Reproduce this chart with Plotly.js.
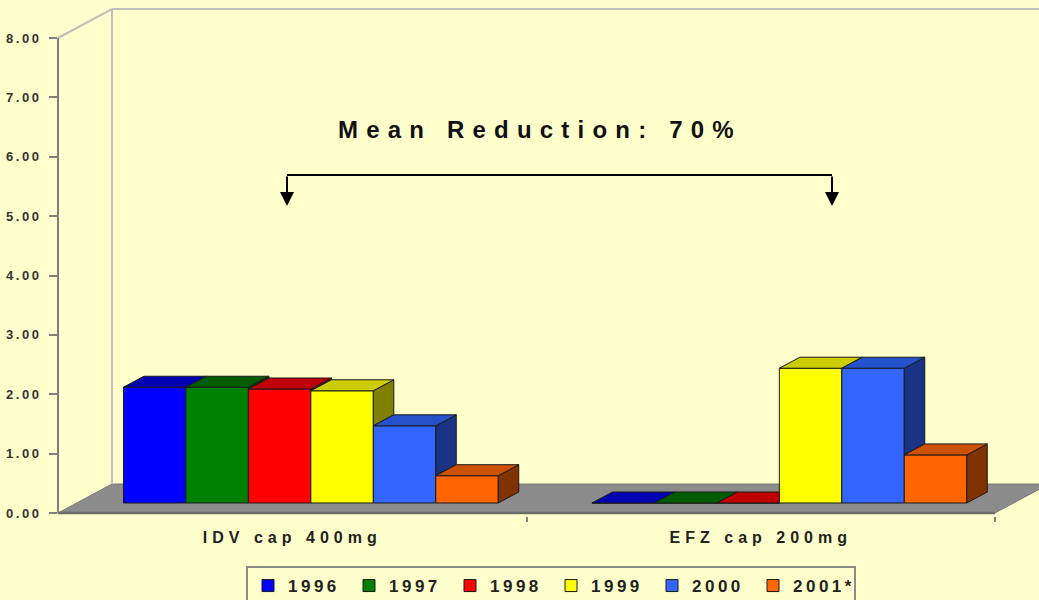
<!DOCTYPE html>
<html><head><meta charset="utf-8">
<script src="https://cdn.plot.ly/plotly-3.0.1.min.js"></script>
<style>
html,body{margin:0;padding:0;background:#FFFFCC;}
#chart{width:1039px;height:600px;}
.ytick text{letter-spacing:2.5px;}
.xtick text{letter-spacing:5px;}
.legendtext{letter-spacing:3.5px;}
.annotation-text{letter-spacing:8.2px;}
</style></head><body><div id="chart"></div>
<script>
// ---- data ----
const categories = ['IDV cap 400mg', 'EFZ cap 200mg'];
const years = ['1996', '1997', '1998', '1999', '2000', '2001*'];
const s1996 = [1.95, 0.00];
const s1997 = [1.95, 0.00];
const s1998 = [1.92, 0.00];
const s1999 = [1.89, 2.27];
const s2000 = [1.30, 2.27];
const s2001 = [0.46, 0.81];
const yTicks = [0, 1, 2, 3, 4, 5, 6, 7, 8];
const titleText = 'Mean Reduction: 70%';

// ---- styles ----
const frontColors = ['#0000FF', '#008000', '#FF0000', '#FFFF00', '#3366FF', '#FF6600'];
const topColors   = ['#0000B0', '#005C00', '#C00000', '#CCCC00', '#2452CC', '#CC5200'];
const sideColors  = ['#000080', '#004000', '#800000', '#808000', '#1A3385', '#803300'];
const FONT = 'Liberation Sans, Arial, sans-serif';

// ---- geometry (pixel scale of the axes) ----
const PLOT_L = 58, PLOT_W = 1039 - 58;
const AX_ZERO = 513, PLOT_T = 5, PLOT_B = 516;
const PX = 468.5, PY = 59.375;          // px per unit
const X0 = -0.5, X1 = 1.5;
const DX = 54 / PX, DY = 29 / PY;       // floor depth
const SX = 18.6 / PX, SY = 10 / PY;     // bar front plane offset
const BX = 20.5 / PX, BY = 11 / PY;     // bar depth
const GROUP = 0.8;
const series = [s1996, s1997, s1998, s1999, s2000, s2001];
const W = GROUP / series.length;
const Xp = p => X0 + (p - PLOT_L) / PX;
const Yp = p => (AX_ZERO - p) / PY;

const traces = [];
series.forEach((vals, j) => {
  traces.push({
    type: 'bar', name: years[j],
    x: vals.map((v, i) => i - GROUP / 2 + (j + 0.5) * W + SX),
    y: vals, base: SY, width: W,
    marker: {color: frontColors[j], line: {color: '#1a1a1a', width: 1}},
    hoverinfo: 'skip'
  });
});
series.forEach((vals, j) => {
  const tX = [], tY = [], sX = [], sY = [];
  vals.forEach((v, i) => {
    const xl = i - GROUP / 2 + j * W + SX, xr = xl + W;
    const h = SY + v;
    const last = j === series.length - 1;
    const hNext = last ? h : SY + series[j + 1][i];
    if (hNext >= h + BY) {
      tX.push(xl, xr, xr, xl + BX, xl, null);
      tY.push(h, h, h + BY, h + BY, h, null);
    } else {
      const hn = Math.max(hNext, h);
      const xc = xr + BX * (hn - h) / BY;
      tX.push(xl, xr, xr, xc, xr + BX, xl + BX, xl, null);
      tY.push(h, h, hn, hn, h + BY, h + BY, h, null);
    }
    let sb = null;
    if (last) sb = SY; else if (hNext < h) sb = hNext;
    if (sb !== null) {
      sX.push(xr, xr, xr + BX, xr + BX, xr, null);
      sY.push(sb, h, h + BY, sb + BY, sb, null);
    }
  });
  traces.push({type: 'scatter', mode: 'lines', x: sX, y: sY, fill: 'toself',
    fillcolor: sideColors[j], line: {color: '#1a1a1a', width: 1}, showlegend: false, hoverinfo: 'skip'});
  traces.push({type: 'scatter', mode: 'lines', x: tX, y: tY, fill: 'toself',
    fillcolor: topColors[j], line: {color: '#1a1a1a', width: 1}, showlegend: false, hoverinfo: 'skip'});
});

const wall = {color: '#C0C0C0', width: 2};
const shapes = [
  {type: 'path', xref: 'x', yref: 'y', layer: 'below',
   path: `M${X0},0 L${X1},0 L${X1 + DX},${DY} L${X0 + DX},${DY} Z`,
   fillcolor: '#8C8C8C', line: {color: '#7a7a7a', width: 1}},
  {type: 'line', xref: 'x', yref: 'y', layer: 'below', x0: X0, x1: X1, y0: 0, y1: 0,
   line: {color: '#6a6a6a', width: 2.5}},
  {type: 'line', xref: 'x', yref: 'y', layer: 'below', x0: X0 + DX, x1: X0 + DX, y0: DY, y1: 8 + DY, line: wall},
  {type: 'line', xref: 'x', yref: 'y', layer: 'below', x0: X0, x1: X0 + DX, y0: 8, y1: 8 + DY, line: wall},
  {type: 'line', xref: 'x', yref: 'y', layer: 'below', x0: X0 + DX, x1: 2, y0: 8 + DY, y1: 8 + DY, line: wall},
  {type: 'line', xref: 'paper', yref: 'y', x0: 0, x1: 0, y0: 0, y1: 8, line: {color: '#808080', width: 2}},
  {type: 'line', xref: 'x', yref: 'y', x0: Xp(287), x1: Xp(832), y0: Yp(175), y1: Yp(175), line: {color: '#000', width: 2}}
];

const annotations = [
  {xref: 'x', yref: 'y', x: Xp(540), y: Yp(129), text: titleText, showarrow: false,
   font: {family: FONT, size: 24, weight: 'bold', color: '#111'}},
  {xref: 'x', yref: 'y', x: Xp(287), y: Yp(206), ax: 0, ay: -31, text: '', showarrow: true,
   arrowhead: 2, arrowsize: 1.4, arrowwidth: 2, arrowcolor: '#000', standoff: 0},
  {xref: 'x', yref: 'y', x: Xp(832), y: Yp(206), ax: 0, ay: -31, text: '', showarrow: true,
   arrowhead: 2, arrowsize: 1.4, arrowwidth: 2, arrowcolor: '#000', standoff: 0}
];

const layout = {
  width: 1039, height: 600, autosize: false,
  margin: {l: PLOT_L, r: 0, t: PLOT_T, b: 600 - PLOT_B, autoexpand: false},
  paper_bgcolor: '#FFFFCC', plot_bgcolor: '#FFFFCC',
  barmode: 'overlay',
  font: {family: FONT, color: '#222'},
  xaxis: {range: [X0, X0 + PLOT_W / PX], tickmode: 'array', tickvals: [0, 1], ticktext: categories,
    ticks: '', showline: false, showgrid: false, zeroline: false, fixedrange: true, automargin: false,
    tickfont: {family: FONT, size: 16, weight: 'bold', color: '#222'}, ticklabelstandoff: 10,
    minor: {tickmode: 'array', tickvals: [0.5, 1.5], ticks: 'outside', ticklen: 5, tickwidth: 2,
      tickcolor: '#808080', showgrid: false}},
  yaxis: {range: [-(PLOT_B - AX_ZERO) / PY, (AX_ZERO - PLOT_T) / PY], tickmode: 'array', tickvals: yTicks,
    tickformat: '.2f', ticks: 'outside', ticklen: 8, tickwidth: 2, tickcolor: '#808080',
    showline: false, showgrid: false, zeroline: false, fixedrange: true, automargin: false,
    tickfont: {family: FONT, size: 13, weight: 'bold', color: '#333'}, ticklabelstandoff: 5},
  legend: {orientation: 'h', x: (246 - PLOT_L) / PLOT_W, xanchor: 'left',
    y: (PLOT_B - 566) / (PLOT_B - PLOT_T), yanchor: 'top',
    bgcolor: '#FFFFCC', bordercolor: '#8a8a8a', borderwidth: 2,
    entrywidth: 56, entrywidthmode: 'pixels', traceorder: 'normal',
    font: {family: FONT, size: 17, weight: 'bold', color: '#222'}},
  shapes: shapes,
  annotations: annotations,
  showlegend: true
};

Plotly.newPlot('chart', traces, layout, {staticPlot: true, displayModeBar: false});
</script></body></html>
